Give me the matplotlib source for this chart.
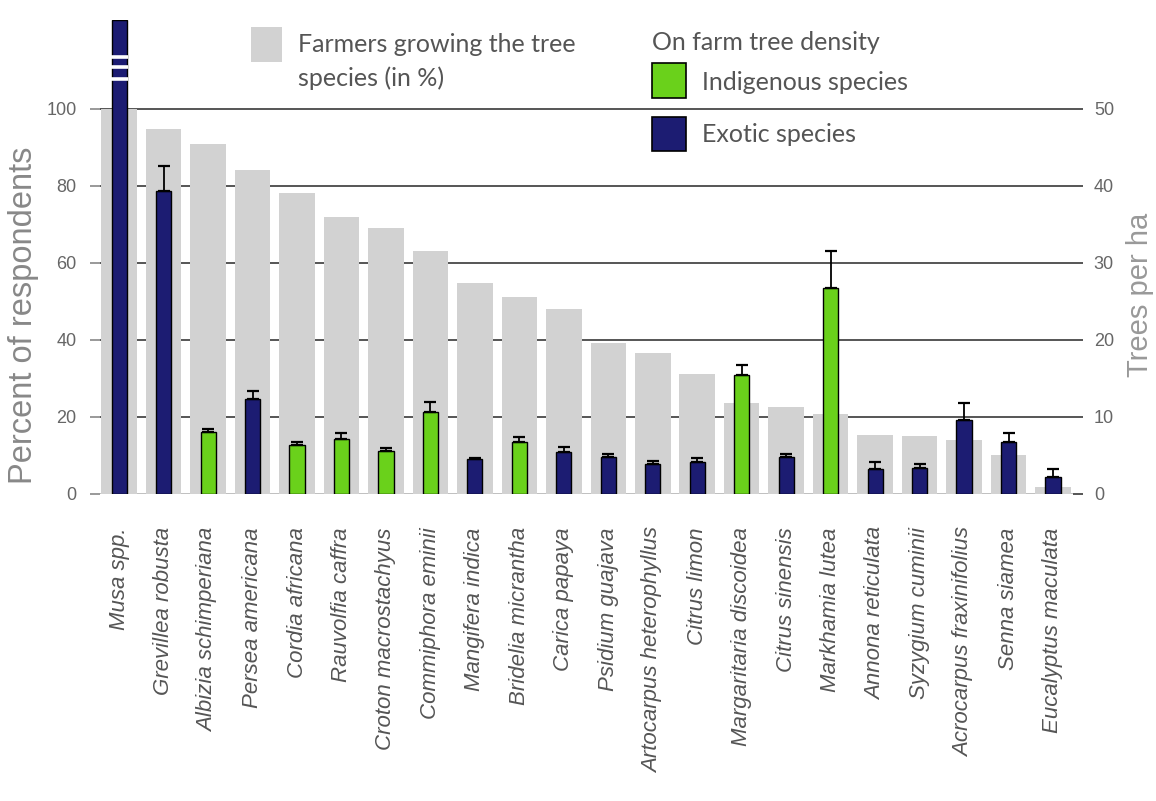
import matplotlib.pyplot as plt
from matplotlib.patches import Rectangle
import numpy as np

# species in order of share of farmers growing them
species = [
    "Musa spp.", "Grevillea robusta", "Albizia schimperiana", "Persea americana",
    "Cordia africana", "Rauvolfia caffra", "Croton macrostachyus", "Commiphora eminii",
    "Mangifera indica", "Bridelia micrantha", "Carica papaya", "Psidium guajava",
    "Artocarpus heterophyllus", "Citrus limon", "Margaritaria discoidea", "Citrus sinensis",
    "Markhamia lutea", "Annona reticulata", "Syzygium cuminii", "Acrocarpus fraxinifolius",
    "Senna siamea", "Eucalyptus maculata",
]
# % of farmers growing the species (left axis)
farmers_pct = [100, 94.9, 90.9, 84.1, 78.2, 71.9, 69.1, 63.2, 54.7, 51.2, 48.0,
               39.3, 36.5, 31.2, 23.6, 22.5, 20.8, 15.3, 15.1, 14.0, 10.1, 1.9]
# on farm tree density, trees per ha (right axis); Musa is off the scale
density = [61.5, 39.3, 8.1, 12.3, 6.4, 7.1, 5.6, 10.7, 4.6, 6.8, 5.4,
           4.8, 3.9, 4.1, 15.5, 4.8, 26.8, 3.3, 3.4, 9.6, 6.7, 2.2]
density_err = [0, 3.3, 0.4, 1.1, 0.3, 0.8, 0.4, 1.2, 0.1, 0.6, 0.7,
               0.4, 0.4, 0.6, 1.3, 0.4, 4.8, 0.8, 0.5, 2.2, 1.2, 1.0]
origin = ["E", "E", "I", "E", "I", "I", "I", "I", "E", "I", "E",
          "E", "E", "E", "I", "E", "I", "E", "E", "E", "E", "E"]

GRAY = "#d2d2d2"
GREEN = "#6ad11b"
NAVY = "#1c1c72"
TXT = "#666666"

plt.rcParams["font.family"] = ["Liberation Sans", "DejaVu Sans"]

fig = plt.figure(figsize=(11.56, 8.01), dpi=100)
W, H = 1156, 801
ax1 = fig.add_axes([100 / W, 1 - 494 / H, 973 / W, 474 / H])
ax2 = ax1.twinx()

x = np.arange(len(species))

# gridlines behind everything (left scale 20..100 == right scale 10..50)
for v in [20, 40, 60, 80, 100]:
    ax1.axhline(v, color="#555555", lw=1.4, zorder=0)
ax1.axhline(0, color="#c0c0c0", lw=1.4, zorder=0)

ax1.bar(x, farmers_pct, width=0.8, color=GRAY, zorder=1)

cols = [GREEN if o == "I" else NAVY for o in origin]
ax2.bar(x, density, width=0.34, color=cols, edgecolor="black", linewidth=1.0, zorder=3)
ax2.errorbar(x[1:], density[1:], yerr=[np.zeros(len(x) - 1), density_err[1:]],
             fmt="none", ecolor="black", elinewidth=1.3, capsize=4, capthick=1.6, zorder=4)

# axis break marks on the Musa bar
for yb in [56.7, 55.4, 53.9]:
    ax2.hlines(yb, -0.2, 0.2, color="white", lw=2.6, zorder=5)

ax1.set_xlim(-0.43, 21.45)
ax1.set_ylim(0, 123.1)
ax2.set_ylim(0, 61.55)

ax1.set_yticks([0, 20, 40, 60, 80, 100])
ax2.set_yticks([0, 10, 20, 30, 40, 50])
ax1.tick_params(axis="y", length=7, width=1.2, color="#888888", labelsize=13,
                labelcolor=TXT, pad=10)
ax2.tick_params(axis="y", length=7, width=1.4, color="#555555", labelsize=13,
                labelcolor=TXT, pad=8)

ax1.set_xticks(x)
ax1.set_xticklabels(species, rotation=90, ha="center", va="top",
                    fontstyle="italic", fontsize=16, color="#555555")
ax1.tick_params(axis="x", length=0, pad=24)

for a in (ax1, ax2):
    for s in a.spines.values():
        s.set_visible(False)

fig.text(24 / W, 1 - 315 / H, "Percent of respondents", rotation=90,
         ha="center", va="center", fontsize=23.5, color="#888888")
fig.text(1140 / W, 1 - 295 / H, "Trees per ha", rotation=90,
         ha="center", va="center", fontsize=21, color="#999999")

# legend drawn by hand
def box(x0, y0, x1, y1, fc, ec="none"):
    fig.patches.append(Rectangle((x0 / W, 1 - y1 / H), (x1 - x0) / W, (y1 - y0) / H,
                                 transform=fig.transFigure, facecolor=fc,
                                 edgecolor=ec, linewidth=1.2))

LEG = dict(family=["Lato", "DejaVu Sans"], fontsize=18, color="#555555", va="center")
box(251, 27, 282, 62, GRAY)
fig.text(298 / W, 1 - 45 / H, "Farmers growing the tree", **LEG)
fig.text(298 / W, 1 - 78 / H, "species (in %)", **LEG)
fig.text(652 / W, 1 - 43 / H, "On farm tree density", **LEG)
box(652, 63, 686, 98, GREEN, "black")
fig.text(702 / W, 1 - 82 / H, "Indigenous species", **LEG)
box(652, 117, 686, 151, NAVY, "black")
fig.text(702 / W, 1 - 135 / H, "Exotic species", **LEG)

fig.savefig("out.png", dpi=100, facecolor="white")
